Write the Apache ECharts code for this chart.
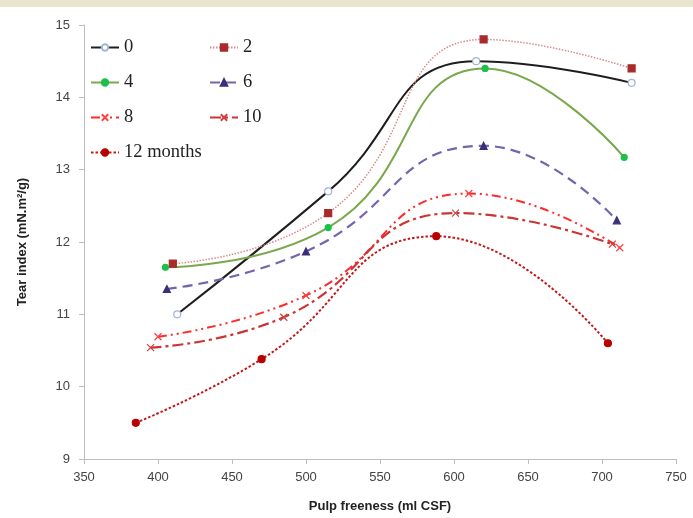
<!DOCTYPE html>
<html>
<head>
<meta charset="utf-8">
<script src="https://cdn.jsdelivr.net/npm/echarts@6/dist/echarts.min.js"></script>
<style>
  html, body { margin: 0; padding: 0; background: #ffffff; }
  #chart { width: 693px; height: 518px; }
</style>
</head>
<body>
<div id="chart"></div>
<script>
// Tear index against pulp freeness, one curve per storage time
const xTicks = [350, 400, 450, 500, 550, 600, 650, 700, 750];
const yTicks = [9, 10, 11, 12, 13, 14, 15];

const m0  = [[413, 11.0], [515, 12.7], [615, 14.5], [720, 14.2]];
const m2  = [[410, 11.7], [515, 12.4], [620, 14.8], [720, 14.4]];
const m4  = [[405, 11.65], [515, 12.2], [621, 14.4], [715, 13.17]];
const m6  = [[406, 11.35], [500, 11.87], [620, 13.33], [710, 12.3]];
const m8  = [[400, 10.69], [500, 11.26], [610, 12.67], [712, 11.92]];
const m10 = [[395, 10.54], [485, 10.96], [601, 12.4], [707, 11.97]];
const m12 = [[385, 9.5], [470, 10.38], [588, 12.08], [704, 10.6]];

const names = ['0', '2', '4', '6', '8', '10', '12 months'];

const crossPath = 'path://M0,0L10,10M10,0L0,10';

function line(name, data, lineColor, width, type, symbol, symbolSize, fill, border) {
  return {
    name: name,
    type: 'line',
    data: data,
    smooth: 0.5,
    symbol: symbol,
    symbolSize: symbolSize,
    showAllSymbol: true,
    lineStyle: { color: lineColor, width: width, type: type },
    itemStyle: { color: fill, borderColor: border, borderWidth: 1.2 },
    emphasis: { disabled: true },
    z: 3
  };
}

const chart = echarts.init(document.getElementById('chart'), null, { renderer: 'canvas' });

const legendText = { fontFamily: 'Liberation Serif', fontSize: 18.5, color: '#222' };

chart.setOption({
  animation: false,
  backgroundColor: '#ffffff',
  graphic: [{
    type: 'rect',
    shape: { x: 0, y: 0, width: 693, height: 7 },
    style: { fill: '#e8e6cf' },
    silent: true
  }],
  grid: { left: 84, right: 17, top: 25, bottom: 59 },
  legend: [
    {
      data: [names[0], names[2], names[4], names[6]],
      orient: 'vertical', left: 85, top: 33, itemGap: 16,
      itemWidth: 28, itemHeight: 8, textStyle: legendText
    },
    {
      data: [names[1], names[3], names[5]],
      orient: 'vertical', left: 204, top: 33, itemGap: 16,
      itemWidth: 28, itemHeight: 8, textStyle: legendText
    }
  ],
  xAxis: {
    type: 'value',
    min: xTicks[0], max: xTicks[xTicks.length - 1], interval: 50,
    name: 'Pulp freeness (ml CSF)',
    nameLocation: 'middle', nameGap: 41,
    nameTextStyle: { fontFamily: 'Liberation Sans', fontWeight: 'bold', fontSize: 13, color: '#222' },
    axisLine: { lineStyle: { color: '#bdbdbd', width: 1 } },
    axisTick: { show: true, length: 5, lineStyle: { color: '#bdbdbd' } },
    axisLabel: { fontFamily: 'Liberation Sans', fontSize: 13, color: '#444', margin: 12 },
    splitLine: { show: false }
  },
  yAxis: {
    type: 'value',
    min: yTicks[0], max: yTicks[yTicks.length - 1], interval: 1,
    name: 'Tear index (mN.m\u00b2/g)',
    nameLocation: 'middle', nameGap: 55, nameRotate: 90,
    nameTextStyle: { fontFamily: 'Liberation Sans', fontWeight: 'bold', fontSize: 13, color: '#222' },
    axisLine: { show: true, lineStyle: { color: '#bdbdbd', width: 1 } },
    axisTick: { show: true, length: 5, lineStyle: { color: '#bdbdbd' } },
    axisLabel: { fontFamily: 'Liberation Sans', fontSize: 13, color: '#444', margin: 14 },
    splitLine: { show: false }
  },
  series: [
    line(names[0], m0, '#1e1e1e', 2, 'solid', 'circle', 7, '#ffffff', '#9fb6d6'),
    line(names[1], m2, '#d88a8a', 1.5, [1.5, 1.5], 'rect', 7, '#a82a2a', '#a82a2a'),
    line(names[2], m4, '#7aa84c', 2, 'solid', 'circle', 6, '#1cc04c', '#1cc04c'),
    line(names[3], m6, '#7464ae', 2.2, [10, 6], 'triangle', 7, '#3e2e78', '#3e2e78'),
    line(names[4], m8, '#ff2a2a', 2, [9, 4, 2, 4, 2, 4], crossPath, 7, 'rgba(0,0,0,0)', '#ff4040'),
    line(names[5], m10, '#cc3434', 2.2, [11, 4, 3, 4], crossPath, 7, 'rgba(0,0,0,0)', '#d04040'),
    line(names[6], m12, '#c41818', 2, [2.5, 2], 'circle', 7, '#b80000', '#b80000')
  ]
});
</script>
</body>
</html>
